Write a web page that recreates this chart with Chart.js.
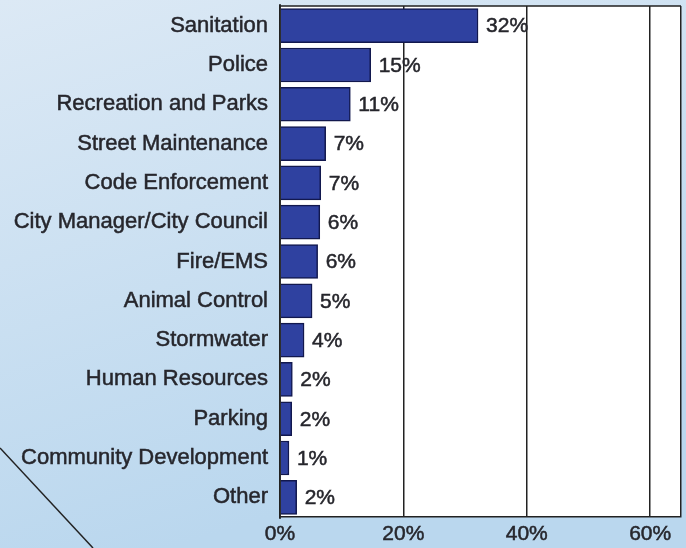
<!DOCTYPE html>
<html>
<head>
<meta charset="utf-8">
<script src="https://cdn.jsdelivr.net/npm/chart.js@4/dist/chart.umd.min.js"></script>
<style>
  html, body { margin: 0; padding: 0; }
  body { width: 686px; height: 548px; overflow: hidden; }
  #wrap { width: 686px; height: 548px; }
</style>
</head>
<body>
<div id="wrap"><canvas id="c" width="686" height="548"></canvas></div>
<script>
const departments = ['Sanitation', 'Police', 'Recreation and Parks', 'Street Maintenance', 'Code Enforcement',
  'City Manager/City Council', 'Fire/EMS', 'Animal Control', 'Stormwater', 'Human Resources',
  'Parking', 'Community Development', 'Other'];
// bar lengths (percent)
const shares = [32.1, 14.7, 11.4, 7.4, 6.6, 6.45, 6.1, 5.2, 3.9, 2.0, 1.9, 1.45, 2.7];
// printed labels next to each bar
const shareLabels = ['32%', '15%', '11%', '7%', '7%', '6%', '6%', '5%', '4%', '2%', '2%', '1%', '2%'];
const xTicks = [0, 20, 40, 60];

const FONT = "'Liberation Sans', Arial, sans-serif";
const INK = '#26262c';

// background gradient, white plot area, the diagonal stroke and the plot frame
const backdrop = {
  id: 'backdrop',
  beforeDraw(chart) {
    const { ctx, chartArea: a, width, height } = chart;
    ctx.save();
    const g = ctx.createLinearGradient(0, 0, width * 0.25, height);
    g.addColorStop(0, '#dce9f5');
    g.addColorStop(1, '#bad7ee');
    ctx.fillStyle = g;
    ctx.fillRect(0, 0, width, height);
    ctx.fillStyle = '#ffffff';
    ctx.fillRect(a.left, a.top, a.right - a.left, a.bottom - a.top);
    ctx.strokeStyle = '#222';
    ctx.lineWidth = 1.5;
    ctx.beginPath();
    ctx.moveTo(0, 448);
    ctx.lineTo(93, 548);
    ctx.stroke();
    ctx.restore();
  },
  afterDraw(chart) {
    const { ctx, chartArea: a } = chart;
    ctx.save();
    ctx.strokeStyle = '#222';
    ctx.lineWidth = 1.5;
    ctx.beginPath();
    ctx.moveTo(a.left, a.top);
    ctx.lineTo(a.right, a.top);
    ctx.moveTo(a.left, a.top - 2);
    ctx.lineTo(a.left, a.bottom + 2);
    ctx.stroke();
    ctx.restore();
  }
};

// percent text after each bar
const barLabels = {
  id: 'barLabels',
  afterDatasetsDraw(chart) {
    const { ctx } = chart;
    const meta = chart.getDatasetMeta(0);
    ctx.save();
    ctx.font = '21px ' + FONT;
    ctx.fillStyle = INK;
    ctx.strokeStyle = INK;
    ctx.lineWidth = 0.5;
    ctx.textAlign = 'left';
    ctx.textBaseline = 'middle';
    meta.data.forEach((bar, i) => {
      ctx.fillText(shareLabels[i], bar.x + 8, bar.y + 1);
      ctx.strokeText(shareLabels[i], bar.x + 8, bar.y + 1);
    });
    ctx.restore();
  }
};

new Chart(document.getElementById('c'), {
  type: 'bar',
  data: {
    labels: departments,
    datasets: [{
      data: shares,
      backgroundColor: '#2f41a0',
      borderColor: '#12184e',
      borderWidth: 1.5,
      borderSkipped: 'left',
      barThickness: 34
    }]
  },
  options: {
    indexAxis: 'y',
    responsive: false,
    animation: false,
    layout: { padding: { top: 6, right: 4, left: 0, bottom: 0 } },
    plugins: { legend: { display: false }, tooltip: { enabled: false } },
    scales: {
      x: {
        min: 0,
        max: 65,
        afterBuildTicks: (s) => { s.ticks = xTicks.concat([65]).map(v => ({ value: v })); },
        afterFit: (s) => { s.height = 31; },
        ticks: {
          callback: (v) => xTicks.includes(v) ? v + '%' : '',
          font: { family: FONT, size: 21 },
          color: INK,
          textStrokeColor: INK,
          textStrokeWidth: 0.5,
          padding: 5,
          maxRotation: 0
        },
        grid: { color: '#222', lineWidth: 1.5, drawTicks: false },
        border: { display: true, color: '#222', width: 1.5 }
      },
      y: {
        afterFit: (s) => { s.width = 280; s.paddingTop = 0; s.paddingBottom = 0; },
        ticks: {
          font: { family: FONT, size: 22 },
          color: INK,
          textStrokeColor: INK,
          textStrokeWidth: 0.5,
          padding: 12,
          autoSkip: false
        },
        grid: { display: false, drawTicks: false },
        border: { display: true, color: '#222', width: 1.5 }
      }
    }
  },
  plugins: [backdrop, barLabels]
});
</script>
</body>
</html>
